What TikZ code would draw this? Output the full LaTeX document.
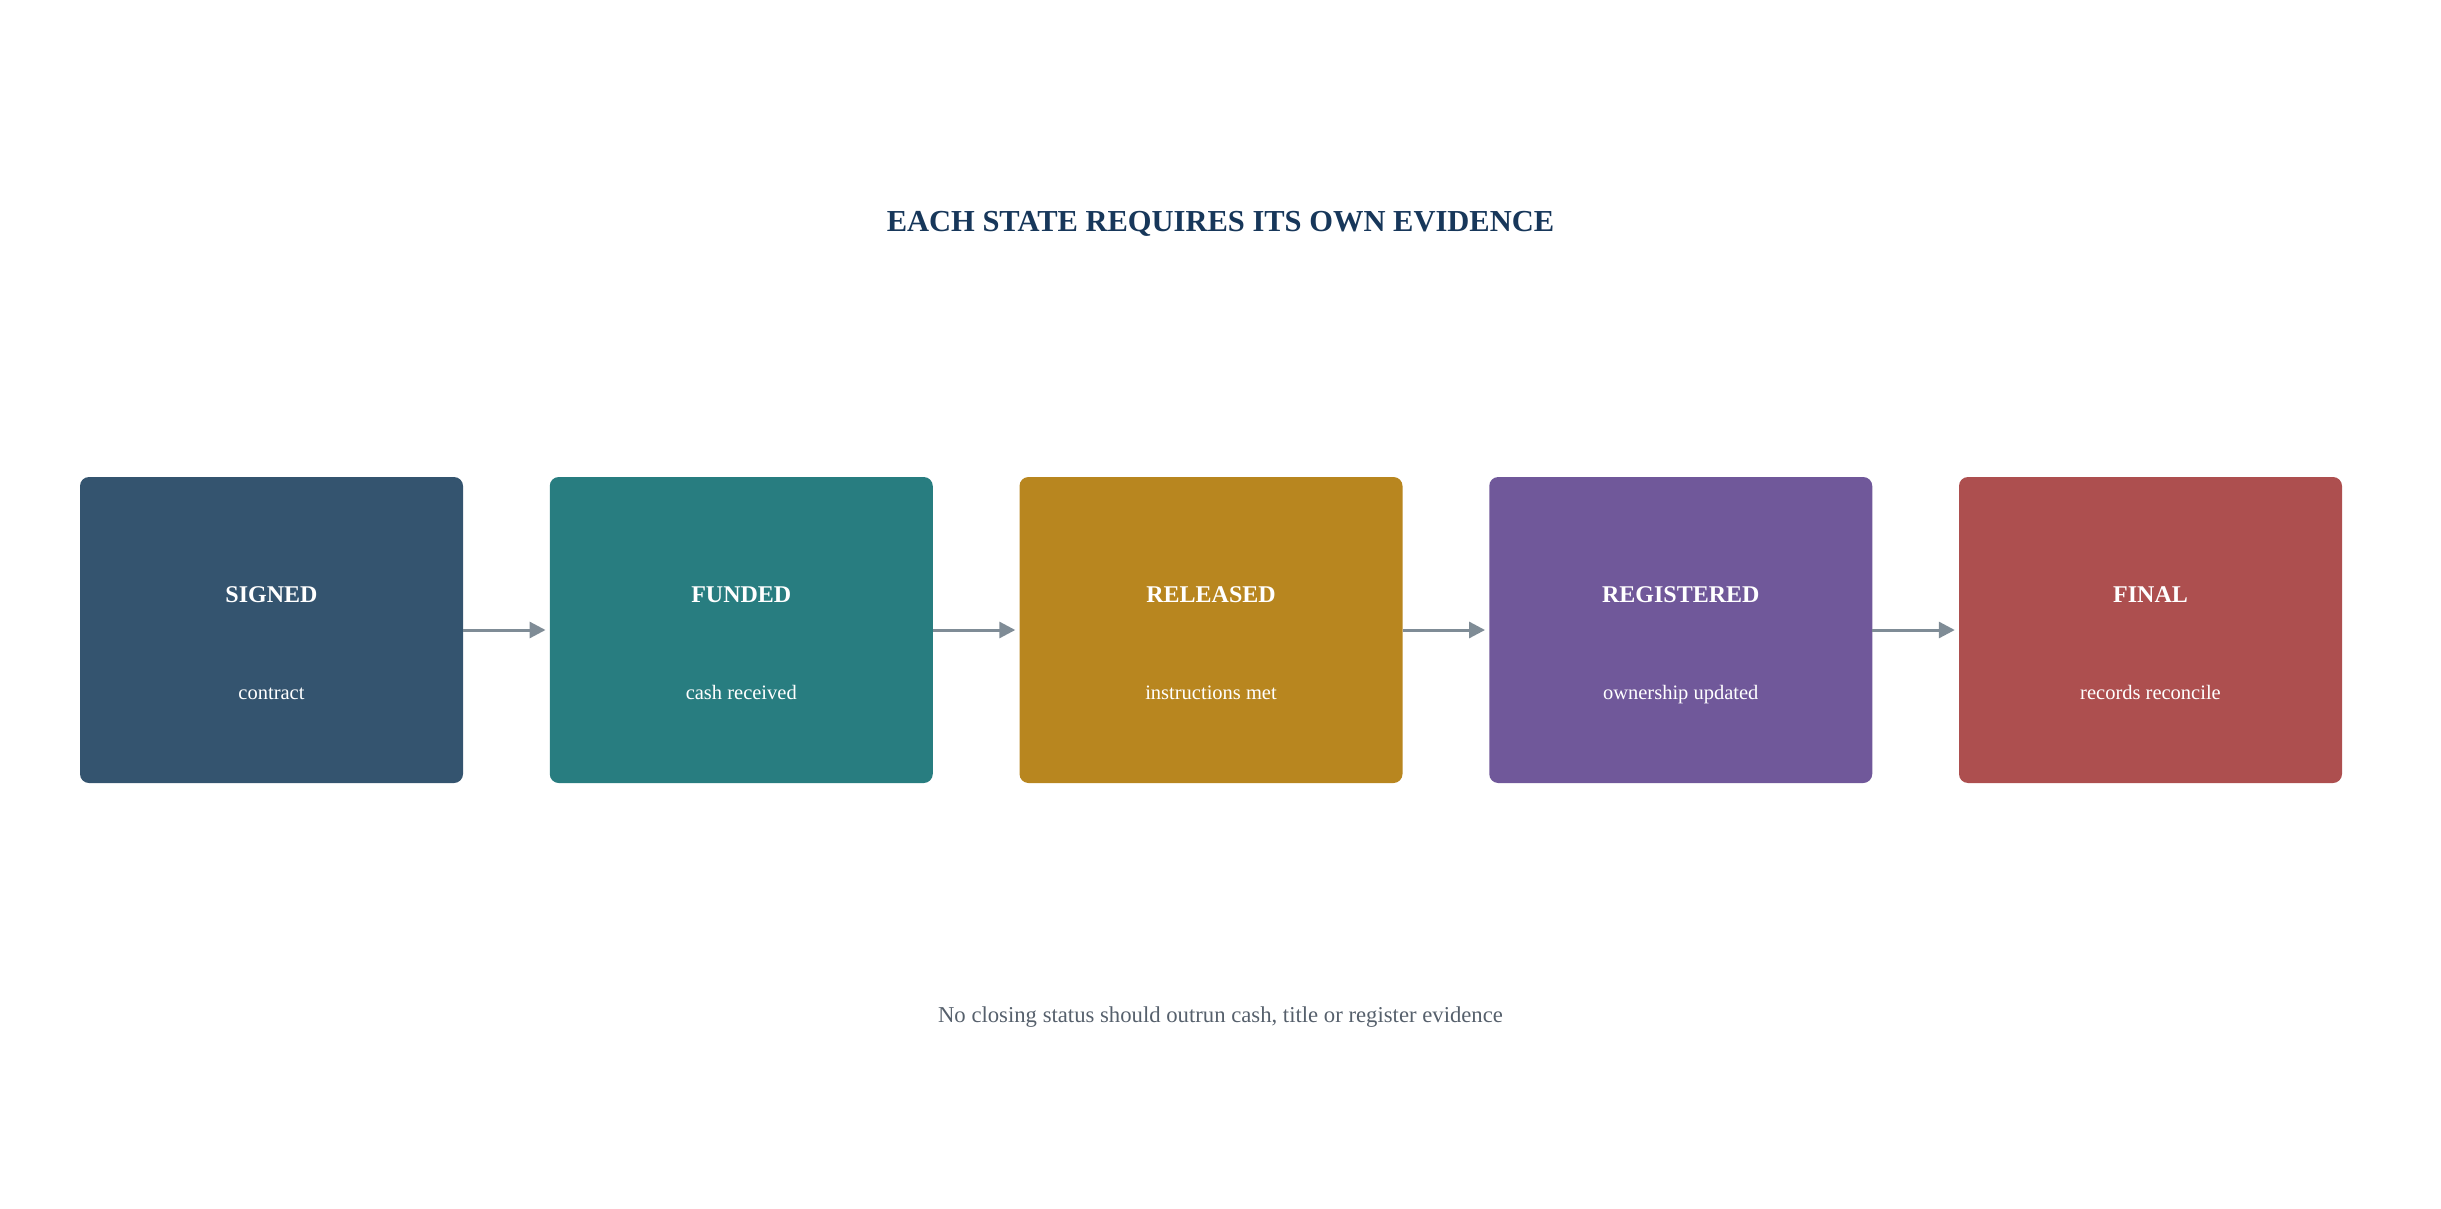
\documentclass[tikz,border=0pt]{standalone}
\usepackage{fontspec}
\setmainfont{Liberation Serif}
\usetikzlibrary{arrows.meta}
\definecolor{cSigned}{HTML}{34546F}
\definecolor{cFunded}{HTML}{287D80}
\definecolor{cReleased}{HTML}{B8861F}
\definecolor{cRegistered}{HTML}{70589A}
\definecolor{cFinal}{HTML}{AD4F4F}
\definecolor{cArrow}{HTML}{7F8C96}
\definecolor{cTitle}{HTML}{17375A}
\definecolor{cFoot}{HTML}{56606C}
\tikzset{
  statebox/.style={rectangle, rounded corners=9pt, minimum width=383pt, minimum height=306pt, inner sep=0pt, draw=none, fill=#1},
  statehead/.style={anchor=base, text=white, inner sep=0pt, font=\fontsize{24}{28}\selectfont\bfseries},
  statesub/.style={anchor=base, text=white, inner sep=0pt, font=\fontsize{20.5}{24}\selectfont},
  flow/.style={draw=cArrow, line width=3pt, -{Triangle[length=16pt, width=16pt]}, shorten >=4pt},
}
\begin{document}
\begin{tikzpicture}[x=1pt, y=-1pt]
\useasboundingbox (0,0) rectangle (2441,1209);
\node[anchor=base, inner sep=0pt, text=cTitle, font=\fontsize{30.5}{36}\selectfont\bfseries] (title) at (1220.5,231) {EACH STATE REQUIRES ITS OWN EVIDENCE};
\node[statebox=cSigned] (b1) at (271.5,630) {};
\node[statebox=cFunded] (b2) at (741.25,630) {};
\node[statebox=cReleased] (b3) at (1211,630) {};
\node[statebox=cRegistered] (b4) at (1680.75,630) {};
\node[statebox=cFinal] (b5) at (2150.5,630) {};
\node[statehead] (h1) at ([yshift=28pt]b1.center) {SIGNED};
\node[statesub] (s1) at ([yshift=-69pt]b1.center) {contract};
\node[statehead] (h2) at ([yshift=28pt]b2.center) {FUNDED};
\node[statesub] (s2) at ([yshift=-69pt]b2.center) {cash received};
\node[statehead] (h3) at ([yshift=28pt]b3.center) {RELEASED};
\node[statesub] (s3) at ([yshift=-69pt]b3.center) {instructions met};
\node[statehead] (h4) at ([yshift=28pt]b4.center) {REGISTERED};
\node[statesub] (s4) at ([yshift=-69pt]b4.center) {ownership updated};
\node[statehead] (h5) at ([yshift=28pt]b5.center) {FINAL};
\node[statesub] (s5) at ([yshift=-69pt]b5.center) {records reconcile};
\draw[flow] (b1.east) -- (b2.west);
\draw[flow] (b2.east) -- (b3.west);
\draw[flow] (b3.east) -- (b4.west);
\draw[flow] (b4.east) -- (b5.west);
\node[anchor=base, inner sep=0pt, text=cFoot, font=\fontsize{22.7}{27}\selectfont] (foot) at (1220.5,1022) {No closing status should outrun cash, title or register evidence};
\end{tikzpicture}
\end{document}
